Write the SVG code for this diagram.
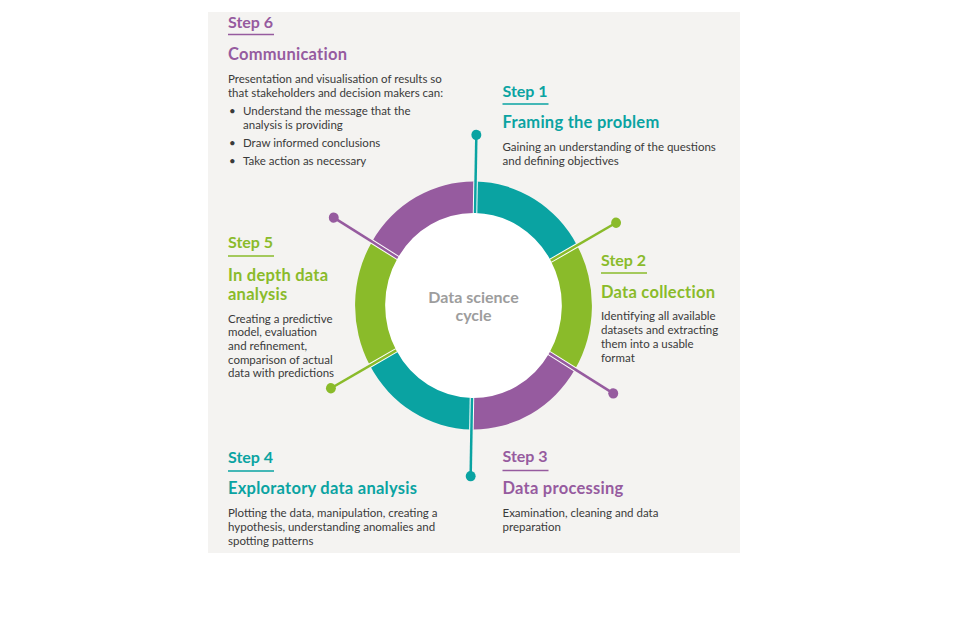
<svg xmlns="http://www.w3.org/2000/svg" width="960" height="640" viewBox="0 0 960 640">
<style>
text{font-family:Lato,"Open Sans","Liberation Sans",sans-serif}
.step{font-size:16px;font-weight:700}
.title{font-size:16.5px;font-weight:700;letter-spacing:0.25px}
.body{font-size:11.5px;fill:#3a3a3a}
.center{font-size:16px;font-weight:700;fill:#9d9d9d}
.teal{fill:#0aa3a2}.green{fill:#8abb2a}.purple{fill:#965b9f}
.ul{stroke-width:1.6}
.gap{stroke:#ffffff;stroke-width:4.5}
.conn{stroke-width:2.5;fill:none}
</style>
<rect x="0" y="0" width="960" height="640" fill="#ffffff"/>
<rect x="208" y="12" width="532" height="541" fill="#f4f3f1"/>

<g id="ring" transform="translate(473.5 305.5) scale(0.955 1) rotate(1)">
  <ellipse cx="0" cy="0" rx="93" ry="93" fill="#ffffff"/>
  <path class="teal" d="M0,-124 A124,124 0 0 1 107.387,-62 L80.107,-46.25 A92.5,92.5 0 0 0 0,-92.5 Z"/>
  <path class="green" d="M107.387,-62 A124,124 0 0 1 107.387,62 L80.107,46.25 A92.5,92.5 0 0 0 80.107,-46.25 Z"/>
  <path class="purple" d="M107.387,62 A124,124 0 0 1 0,124 L0,92.5 A92.5,92.5 0 0 0 80.107,46.25 Z"/>
  <path class="teal" d="M0,124 A124,124 0 0 1 -107.387,62 L-80.107,46.25 A92.5,92.5 0 0 0 0,92.5 Z"/>
  <path class="green" d="M-107.387,62 A124,124 0 0 1 -107.387,-62 L-80.107,-46.25 A92.5,92.5 0 0 0 -80.107,46.25 Z"/>
  <path class="purple" d="M-107.387,-62 A124,124 0 0 1 0,-124 L0,-92.5 A92.5,92.5 0 0 0 -80.107,-46.25 Z"/>
  <g class="gap">
    <line x1="0" y1="-92" x2="0" y2="-124.3" vector-effect="non-scaling-stroke"/>
    <line x1="79.67" y1="-46" x2="107.65" y2="-62.15" vector-effect="non-scaling-stroke"/>
    <line x1="79.67" y1="46" x2="107.65" y2="62.15" vector-effect="non-scaling-stroke"/>
    <line x1="0" y1="92" x2="0" y2="124.3" vector-effect="non-scaling-stroke"/>
    <line x1="-79.67" y1="46" x2="-107.65" y2="62.15" vector-effect="non-scaling-stroke"/>
    <line x1="-79.67" y1="-46" x2="-107.65" y2="-62.15" vector-effect="non-scaling-stroke"/>
  </g>
  <text class="center" x="0" y="0" text-anchor="middle" transform="rotate(-1) scale(1.047 1)"><tspan x="0" y="-2.5">Data science</tspan><tspan x="0" y="15.5">cycle</tspan></text>
</g>

<g id="connectors" transform="translate(473.5 305.5) scale(0.955 1) rotate(1)">
  <line class="conn" stroke="#0aa3a2" x1="0" y1="-92.5" x2="0" y2="-170.7" vector-effect="non-scaling-stroke"/>
  <line class="conn" stroke="#8abb2a" x1="80.107" y1="-46.25" x2="147.83" y2="-85.35" vector-effect="non-scaling-stroke"/>
  <line class="conn" stroke="#965b9f" x1="80.107" y1="46.25" x2="147.83" y2="85.35" vector-effect="non-scaling-stroke"/>
  <line class="conn" stroke="#0aa3a2" x1="0" y1="92.5" x2="0" y2="170.7" vector-effect="non-scaling-stroke"/>
  <line class="conn" stroke="#8abb2a" x1="-80.107" y1="46.25" x2="-147.83" y2="85.35" vector-effect="non-scaling-stroke"/>
  <line class="conn" stroke="#965b9f" x1="-80.107" y1="-46.25" x2="-147.83" y2="-85.35" vector-effect="non-scaling-stroke"/>
  <circle class="teal" cx="0" cy="-170.7" r="5.2"/>
  <circle class="green" cx="147.83" cy="-85.35" r="5.2"/>
  <circle class="purple" cx="147.83" cy="85.35" r="5.2"/>
  <circle class="teal" cx="0" cy="170.7" r="5.2"/>
  <circle class="green" cx="-147.83" cy="85.35" r="5.2"/>
  <circle class="purple" cx="-147.83" cy="-85.35" r="5.2"/>
</g>

<g id="step6">
  <text class="step purple" x="228" y="28">Step 6</text>
  <line class="ul" stroke="#965b9f" x1="228" y1="34.5" x2="274" y2="34.5"/>
  <text class="title purple" x="228" y="60">Communication</text>
  <text class="body" x="228" y="83">Presentation and visualisation of results so</text>
  <text class="body" x="228" y="97">that stakeholders and decision makers can:</text>
  <text class="body" x="229" y="115">•</text>
  <text class="body" x="243" y="115">Understand the message that the</text>
  <text class="body" x="243" y="129">analysis is providing</text>
  <text class="body" x="229" y="147">•</text>
  <text class="body" x="243" y="147">Draw informed conclusions</text>
  <text class="body" x="229" y="165">•</text>
  <text class="body" x="243" y="165">Take action as necessary</text>
</g>

<g id="step1">
  <text class="step teal" x="502.5" y="97">Step 1</text>
  <line class="ul" stroke="#0aa3a2" x1="502.5" y1="104" x2="548.5" y2="104"/>
  <text class="title teal" x="502.5" y="128">Framing the problem</text>
  <text class="body" x="502.5" y="151">Gaining an understanding of the questions</text>
  <text class="body" x="502.5" y="164.5">and defining objectives</text>
</g>

<g id="step2">
  <text class="step green" x="601" y="266">Step 2</text>
  <line class="ul" stroke="#8abb2a" x1="601" y1="273" x2="647" y2="273"/>
  <text class="title green" x="601" y="298">Data collection</text>
  <text class="body" x="601" y="320">Identifying all available</text>
  <text class="body" x="601" y="334">datasets and extracting</text>
  <text class="body" x="601" y="348">them into a usable</text>
  <text class="body" x="601" y="362">format</text>
</g>

<g id="step3">
  <text class="step purple" x="502.5" y="462">Step 3</text>
  <line class="ul" stroke="#965b9f" x1="502.5" y1="470.5" x2="548.5" y2="470.5"/>
  <text class="title purple" x="502.5" y="494">Data processing</text>
  <text class="body" x="502.5" y="517">Examination, cleaning and data</text>
  <text class="body" x="502.5" y="530.5">preparation</text>
</g>

<g id="step4">
  <text class="step teal" x="228" y="463">Step 4</text>
  <line class="ul" stroke="#0aa3a2" x1="228" y1="471" x2="274" y2="471"/>
  <text class="title teal" x="228" y="494">Exploratory data analysis</text>
  <text class="body" x="228" y="517">Plotting the data, manipulation, creating a</text>
  <text class="body" x="228" y="531">hypothesis, understanding anomalies and</text>
  <text class="body" x="228" y="545">spotting patterns</text>
</g>

<g id="step5">
  <text class="step green" x="228" y="248">Step 5</text>
  <line class="ul" stroke="#8abb2a" x1="228" y1="256" x2="274" y2="256"/>
  <text class="title green" x="228" y="281">In depth data</text>
  <text class="title green" x="228" y="300">analysis</text>
  <text class="body" x="228" y="322.5">Creating a predictive</text>
  <text class="body" x="228" y="336">model, evaluation</text>
  <text class="body" x="228" y="350">and refinement,</text>
  <text class="body" x="228" y="363.5">comparison of actual</text>
  <text class="body" x="228" y="377">data with predictions</text>
</g>
</svg>
